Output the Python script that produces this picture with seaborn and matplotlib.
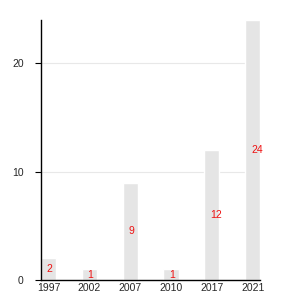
import matplotlib
matplotlib.use("Agg")
import matplotlib.pyplot as plt
import seaborn as sns

years = ["1997", "2002", "2007", "2010", "2017", "2021"]
values = [2, 1, 9, 1, 12, 24]

sns.set_style("white")
plt.rcParams['font.family'] = ['Liberation Sans', 'DejaVu Sans']

fig = plt.figure(figsize=(3, 3), dpi=100)
ax = fig.add_axes([0.137, 0.0667, 0.73, 0.8663])

sns.barplot(x=years, y=values, color="#e5e5e5", width=0.37, saturation=1, ax=ax, zorder=2)

for i, v in enumerate(values):
    ax.text(i - 0.04, v / 2, str(v), color="#ee1111", ha="left", va="center", fontsize=7.5, zorder=3)

ax.set_xlim(-0.18, 5.18)
ax.set_ylim(0, 24)
ax.set_yticks([0, 10, 20])
ax.yaxis.grid(True, color="#e8e8e8", linewidth=0.8, zorder=0)
ax.set_axisbelow(True)
ax.tick_params(axis="y", length=4.5, width=0.8, labelsize=7.5, pad=8, color="black", left=True)
ax.tick_params(axis="x", length=0, labelsize=7.5, pad=2)
ax.set_xlabel("")
ax.set_ylabel("")
for s in ["top", "right"]:
    ax.spines[s].set_visible(False)
for s in ["left", "bottom"]:
    ax.spines[s].set_color("black")
    ax.spines[s].set_linewidth(1.0)

fig.savefig("out.png", dpi=100)
